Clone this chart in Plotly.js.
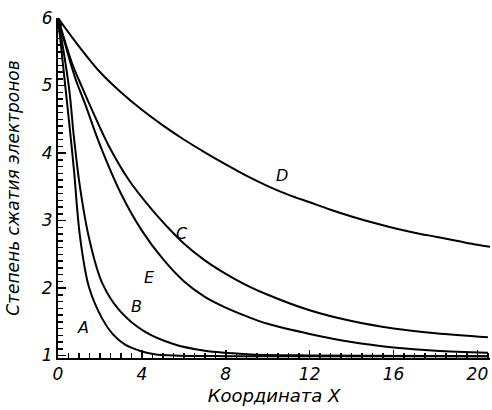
<!DOCTYPE html>
<html>
<head>
<meta charset="utf-8">
<script src="https://cdn.plot.ly/plotly-3.0.1.min.js"></script>
<style>html,body{margin:0;padding:0;background:#fff;}#chart{width:492px;height:410px;}</style>
</head>
<body>
<div id="chart"></div>
<script>
// Curve data (coordinate X, degree of electron compression)
const xA = [0, 0.52, 0.76, 1.05, 1.48, 2.1, 2.6, 3.2, 4.0, 4.6, 5.5, 8.0, 12.0, 20.5];
const yA = [6, 4.49, 3.75, 2.76, 2.01, 1.55, 1.32, 1.16, 1.06, 1.02, 1.0, 0.99, 0.99, 0.99];

const xB = [0, 0.52, 0.76, 1.05, 1.48, 2.1, 2.9, 4.1, 5.5, 7.0, 9.0, 12.0, 20.5];
const yB = [6, 4.98, 4.23, 3.49, 2.74, 2.08, 1.68, 1.36, 1.17, 1.07, 1.02, 1.0, 0.99];

const xE = [0, 0.8, 1.3, 2, 3, 4, 5, 6, 7, 8, 9, 10, 12, 14, 16, 18, 20.5];
const yE = [6, 5.13, 4.72, 4.12, 3.40, 2.85, 2.43, 2.10, 1.87, 1.71, 1.58, 1.47, 1.32, 1.20, 1.12, 1.07, 1.04];

const xC = [0, 0.67, 1.14, 1.62, 2.43, 3.38, 4.48, 5.2, 6, 7, 8, 9, 10, 12, 14, 16, 18, 20.5];
const yC = [6, 5.33, 4.98, 4.64, 4.10, 3.60, 3.16, 2.91, 2.66, 2.41, 2.21, 2.04, 1.90, 1.67, 1.51, 1.40, 1.33, 1.27];

const xD = [0, 1, 2, 3, 4, 5, 6, 7, 8, 9, 10, 11, 12, 13, 14, 15, 16, 17, 18, 19, 20, 20.6];
const yD = [6, 5.58, 5.20, 4.90, 4.64, 4.41, 4.20, 4.01, 3.83, 3.66, 3.51, 3.38, 3.27, 3.16, 3.06, 2.97, 2.89, 2.82, 2.76, 2.70, 2.64, 2.61];

const curveNames = ['A', 'B', 'E', 'C', 'D'];
const labelX = [1.19, 3.76, 4.38, 5.9, 10.67];
const labelY = [1.41, 1.73, 2.16, 2.81, 3.66];

const xTitle = 'Координата X';
const yTitle = 'Степень сжатия электронов';

const series = [[xA, yA], [xB, yB], [xE, yE], [xC, yC], [xD, yD]];
const traces = series.map((s, i) => ({
  x: s[0], y: s[1], type: 'scatter', mode: 'lines', name: curveNames[i],
  line: {color: '#000', width: 2, shape: 'spline', smoothing: 1},
  hoverinfo: 'skip'
}));

const fontFam = 'DejaVu Sans, Liberation Sans, sans-serif';
const annotations = curveNames.map((n, i) => ({
  x: labelX[i], y: labelY[i], xref: 'x', yref: 'y', text: n, showarrow: false,
  font: {family: fontFam, size: 16, color: '#000', style: 'italic'}
}));

const layout = {
  width: 492, height: 410,
  margin: {l: 58, r: 2, t: 18, b: 52},
  paper_bgcolor: '#fff', plot_bgcolor: '#fff',
  showlegend: false,
  xaxis: {
    range: [0, 20.6], showgrid: false, zeroline: false,
    showline: true, linecolor: '#000', linewidth: 2,
    tickmode: 'linear', tick0: 0, dtick: 4,
    ticks: 'inside', ticklen: 8, tickwidth: 1.5, tickcolor: '#000',
    minor: {dtick: 0.5, tick0: 0, ticks: 'inside', ticklen: 5, tickwidth: 1.5, tickcolor: '#000'},
    tickfont: {family: fontFam, size: 17, color: '#000', style: 'italic'},
    title: {text: xTitle, standoff: 6, font: {family: fontFam, size: 18, color: '#000', style: 'italic'}}
  },
  yaxis: {
    range: [0.963, 6], showgrid: false, zeroline: false,
    showline: true, linecolor: '#000', linewidth: 2,
    tickmode: 'linear', tick0: 1, dtick: 1,
    ticks: 'inside', ticklen: 8, tickwidth: 1.5, tickcolor: '#000',
    minor: {dtick: 0.1, tick0: 1, ticks: 'inside', ticklen: 5, tickwidth: 1.5, tickcolor: '#000'},
    tickfont: {family: fontFam, size: 17, color: '#000', style: 'italic'},
    title: {text: yTitle, standoff: 18, font: {family: fontFam, size: 17, color: '#000', style: 'italic'}}
  },
  annotations: annotations
};

Plotly.newPlot('chart', traces, layout, {staticPlot: true, displayModeBar: false});
</script>
</body>
</html>
